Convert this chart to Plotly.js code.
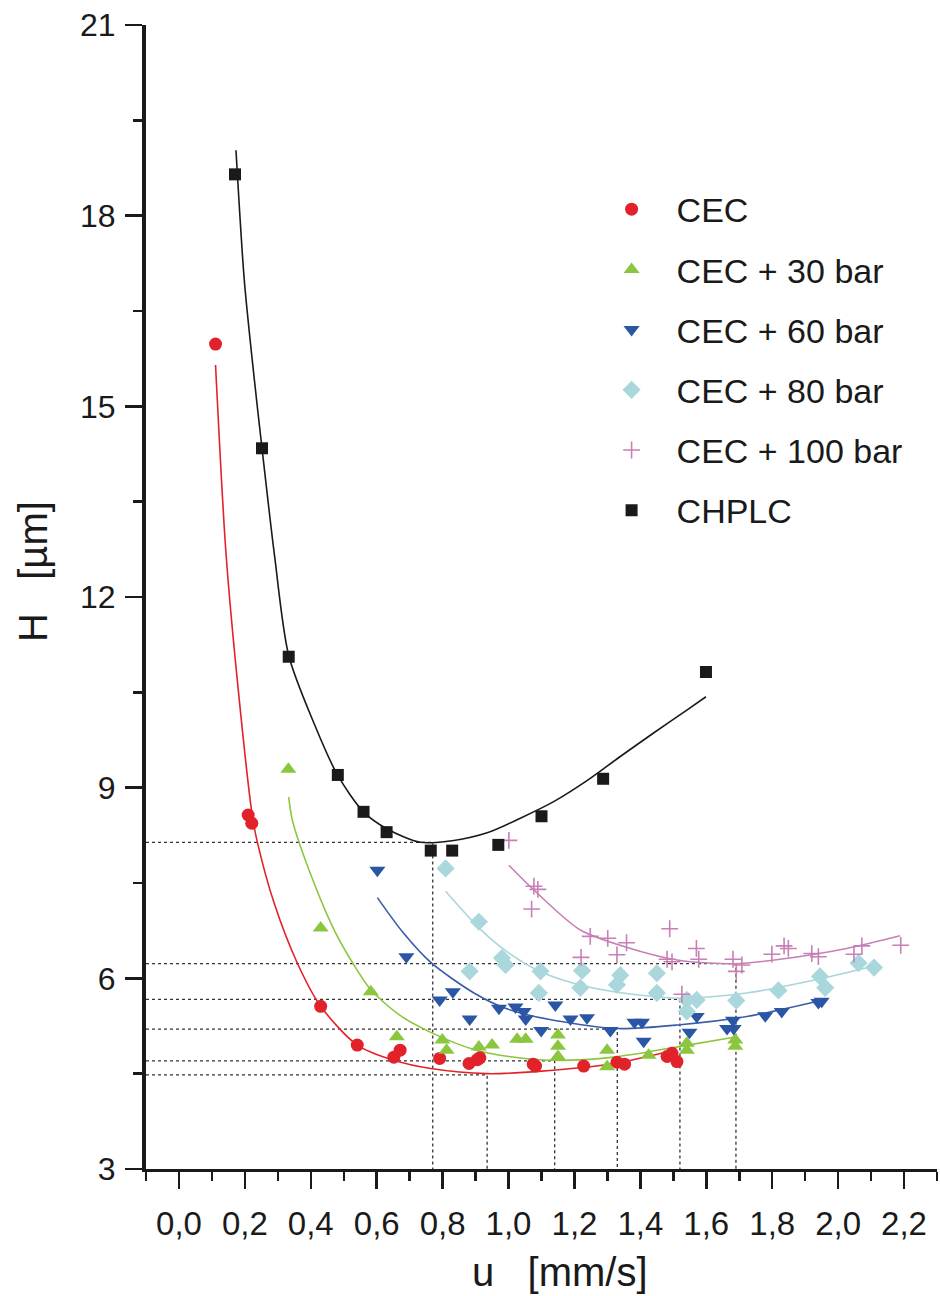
<!DOCTYPE html>
<html>
<head>
<meta charset="utf-8">
<script src="https://cdn.plot.ly/plotly-3.0.1.min.js"></script>
<style>
  html, body { margin: 0; padding: 0; background: #fff; }
  #chart { width: 940px; height: 1296px; }
</style>
</head>
<body>
<div id="chart"></div>
<script>
// Plate height H (µm) versus linear velocity u (mm/s): measured points and fitted curves

const seriesNames = ['CEC', 'CEC + 30 bar', 'CEC + 60 bar', 'CEC + 80 bar', 'CEC + 100 bar', 'CHPLC'];
const seriesColors = ['#e2222b', '#8cc63e', '#2a56a5', '#a9d7dc', '#c87fb5', '#1a1a1a'];
const lineColors = ['#e2222b', '#8cc63e', '#3a5ca8', '#aad6da', '#c87fb5', '#1a1a1a'];
const seriesSymbols = ['circle', 'triangle-up', 'triangle-down', 'diamond', 'cross-thin-open', 'square'];
const seriesSizes = [13, 14, 14, 14, 12, 12];

// measured points
const cecU = [0.111, 0.210, 0.221, 0.430, 0.541, 0.652, 0.671, 0.791, 0.880, 0.905, 0.913, 1.075, 1.082, 1.228, 1.329, 1.352, 1.481, 1.496, 1.511];
const cecH = [15.98, 8.57, 8.44, 5.56, 4.95, 4.76, 4.87, 4.74, 4.66, 4.72, 4.75, 4.65, 4.62, 4.62, 4.68, 4.65, 4.77, 4.82, 4.69];

const cec30U = [0.332, 0.430, 0.582, 0.661, 0.799, 0.812, 0.910, 0.950, 1.026, 1.052, 1.150, 1.150, 1.150, 1.299, 1.299, 1.425, 1.541, 1.541, 1.688, 1.688];
const cec30H = [9.29, 6.79, 5.79, 5.08, 5.03, 4.87, 4.92, 4.95, 5.04, 5.04, 5.11, 4.93, 4.77, 4.87, 4.61, 4.79, 4.87, 4.98, 5.03, 4.93];

const cec60U = [0.602, 0.690, 0.791, 0.831, 0.882, 0.971, 1.021, 1.046, 1.052, 1.099, 1.142, 1.188, 1.238, 1.309, 1.382, 1.405, 1.410, 1.549, 1.571, 1.663, 1.681, 1.683, 1.779, 1.829, 1.940, 1.950];
const cec60H = [7.70, 6.34, 5.66, 5.79, 5.36, 5.53, 5.55, 5.48, 5.36, 5.18, 5.58, 5.36, 5.38, 5.18, 5.31, 5.31, 5.01, 5.15, 5.40, 5.21, 5.34, 5.21, 5.41, 5.48, 5.62, 5.64];

const cec80U = [0.809, 0.910, 0.882, 0.980, 0.991, 1.092, 1.097, 1.223, 1.218, 1.339, 1.329, 1.450, 1.450, 1.541, 1.541, 1.571, 1.691, 1.819, 1.945, 1.961, 2.062, 2.109];
const cec80H = [7.73, 6.89, 6.11, 6.32, 6.21, 5.77, 6.11, 6.12, 5.85, 6.05, 5.90, 6.08, 5.77, 5.66, 5.48, 5.66, 5.65, 5.81, 6.03, 5.85, 6.24, 6.17];

const cec100U = [1.001, 1.077, 1.089, 1.070, 1.248, 1.301, 1.358, 1.220, 1.329, 1.489, 1.481, 1.496, 1.570, 1.577, 1.681, 1.691, 1.708, 1.526, 1.799, 1.836, 1.849, 1.920, 1.940, 2.048, 2.072, 2.190];
const cec100H = [8.17, 7.45, 7.40, 7.09, 6.66, 6.63, 6.56, 6.33, 6.37, 6.78, 6.30, 6.26, 6.47, 6.30, 6.30, 6.11, 6.21, 5.75, 6.38, 6.51, 6.47, 6.39, 6.34, 6.38, 6.51, 6.52];

const chplcU = [0.170, 0.252, 0.333, 0.482, 0.560, 0.630, 0.764, 0.829, 0.969, 1.100, 1.287, 1.599];
const chplcH = [18.65, 14.34, 11.06, 9.20, 8.62, 8.30, 8.01, 8.01, 8.10, 8.55, 9.14, 10.82];

// fitted curves
const cecFitU = [0.111, 0.142, 0.178, 0.223, 0.238, 0.289, 0.360, 0.430, 0.541, 0.652, 0.764, 0.935, 1.100, 1.320, 1.511];
const cecFitH = [15.65, 12.74, 10.64, 8.54, 8.14, 7.18, 6.23, 5.56, 4.95, 4.71, 4.58, 4.50, 4.54, 4.66, 4.88];

const cec30FitU = [0.333, 0.344, 0.395, 0.471, 0.531, 0.582, 0.670, 0.764, 0.895, 1.000, 1.140, 1.319, 1.521, 1.693];
const cec30FitH = [8.85, 8.49, 7.70, 6.76, 6.21, 5.82, 5.42, 5.15, 4.88, 4.77, 4.71, 4.76, 4.93, 5.08];

const cec60FitU = [0.602, 0.680, 0.764, 0.895, 0.995, 1.117, 1.330, 1.521, 1.723, 1.955];
const cec60FitH = [7.27, 6.72, 6.25, 5.77, 5.52, 5.36, 5.21, 5.27, 5.40, 5.66];

const cec80FitU = [0.809, 0.915, 0.995, 1.100, 1.200, 1.319, 1.521, 1.723, 1.925, 2.107];
const cec80FitH = [7.37, 6.77, 6.42, 6.10, 5.92, 5.79, 5.69, 5.77, 5.97, 6.19];

const cec100FitU = [1.001, 1.077, 1.218, 1.370, 1.521, 1.688, 1.824, 2.026, 2.188];
const cec100FitH = [7.78, 7.39, 6.76, 6.47, 6.28, 6.23, 6.30, 6.47, 6.67];

const chplcFitU = [0.173, 0.198, 0.225, 0.252, 0.290, 0.333, 0.410, 0.481, 0.560, 0.632, 0.733, 0.834, 0.935, 1.036, 1.137, 1.238, 1.339, 1.440, 1.541, 1.599];
const chplcFitH = [19.03, 17.00, 15.60, 14.34, 12.65, 11.08, 10.01, 9.20, 8.62, 8.35, 8.14, 8.17, 8.29, 8.52, 8.78, 9.11, 9.49, 9.86, 10.22, 10.43];

// minima of the fitted curves (u_opt, H_min), marked with dotted guides
const minU = [0.935, 1.140, 1.330, 1.520, 1.690, 0.770];
const minH = [4.48, 4.70, 5.20, 5.67, 6.23, 8.14];

const xTickVals = [0, 0.2, 0.4, 0.6, 0.8, 1.0, 1.2, 1.4, 1.6, 1.8, 2.0, 2.2];
const yTickVals = [3, 6, 9, 12, 15, 18, 21];

const pointsU = [cecU, cec30U, cec60U, cec80U, cec100U, chplcU];
const pointsH = [cecH, cec30H, cec60H, cec80H, cec100H, chplcH];
const fitsU = [cecFitU, cec30FitU, cec60FitU, cec80FitU, cec100FitU, chplcFitU];
const fitsH = [cecFitH, cec30FitH, cec60FitH, cec80FitH, cec100FitH, chplcFitH];

const X_MIN = -0.1, X_MAX = 2.3, Y_MIN = 3, Y_MAX = 21;
const FONT = 'Liberation Sans, Arial, Helvetica, sans-serif';

const traces = [];

// dotted guides: horizontal from the axis to the minimum, then down to the u-axis
minU.forEach((u, i) => {
  traces.push({
    x: [X_MIN, u, u],
    y: [minH[i], minH[i], Y_MIN],
    mode: 'lines',
    line: { color: '#333333', width: 1.3, dash: 'dot' },
    hoverinfo: 'skip',
    showlegend: false
  });
});

// fitted curves
fitsU.forEach((u, i) => {
  traces.push({
    x: u,
    y: fitsH[i],
    mode: 'lines',
    line: { color: lineColors[i], width: 1.6, shape: 'spline', smoothing: 0.8 },
    hoverinfo: 'skip',
    showlegend: false
  });
});

// measured points
pointsU.forEach((u, i) => {
  const isCross = seriesSymbols[i] === 'cross-thin-open';
  traces.push({
    x: u,
    y: pointsH[i],
    name: seriesNames[i],
    legendgroup: 'g' + i,
    mode: 'markers',
    marker: {
      symbol: seriesSymbols[i],
      size: seriesSizes[i],
      color: seriesColors[i],
      line: isCross ? { color: seriesColors[i], width: 1.6 } : { width: 0 }
    }
  });
});

const layout = {
  width: 940,
  height: 1296,
  margin: { l: 146, r: 3, t: 25, b: 127 },
  paper_bgcolor: '#ffffff',
  plot_bgcolor: '#ffffff',
  separators: ',.',
  font: { family: FONT, color: '#1a1a1a' },
  showlegend: true,
  legend: {
    x: 0.557,
    y: 0.864,
    xanchor: 'left',
    yanchor: 'top',
    traceorder: 'grouped',
    tracegroupgap: 13,
    bgcolor: 'rgba(0,0,0,0)',
    font: { family: FONT, size: 34, color: '#1a1a1a' },
    itemwidth: 80
  },
  xaxis: {
    range: [X_MIN, X_MAX],
    tickvals: xTickVals,
    tickformat: '.1f',
    ticks: 'outside',
    ticklen: 17,
    tickwidth: 2.5,
    tickcolor: '#1a1a1a',
    minor: { dtick: 0.1, tick0: 0.1, ticks: 'outside', ticklen: 9, tickwidth: 2.5, tickcolor: '#1a1a1a' },
    ticklabelstandoff: 6,
    tickfont: { family: FONT, size: 33, color: '#1a1a1a' },
    showline: true,
    linewidth: 3,
    linecolor: '#1a1a1a',
    showgrid: false,
    zeroline: false,
    fixedrange: true
  },
  yaxis: {
    range: [Y_MIN, Y_MAX],
    tickvals: yTickVals,
    ticks: 'outside',
    ticklen: 17,
    tickwidth: 2.5,
    tickcolor: '#1a1a1a',
    minor: { dtick: 1.5, tick0: 4.5, ticks: 'outside', ticklen: 9, tickwidth: 2.5, tickcolor: '#1a1a1a' },
    ticklabelstandoff: 3,
    tickfont: { family: FONT, size: 32, color: '#1a1a1a' },
    showline: true,
    linewidth: 4,
    linecolor: '#1a1a1a',
    showgrid: false,
    zeroline: false,
    fixedrange: true
  },
  annotations: [
    {
      text: 'H\u00a0\u00a0\u00a0[µm]',
      xref: 'paper', yref: 'paper',
      x: (33 - 146) / 791, y: (1169 - 572) / 1144,
      xanchor: 'center', yanchor: 'middle',
      textangle: -90,
      showarrow: false,
      font: { family: FONT, size: 40, color: '#1a1a1a' }
    },
    {
      text: 'u\u00a0\u00a0\u00a0[mm/s]',
      xref: 'paper', yref: 'paper',
      x: (560 - 146) / 791, y: (1169 - 1272) / 1144,
      xanchor: 'center', yanchor: 'middle',
      showarrow: false,
      font: { family: FONT, size: 40, color: '#1a1a1a' }
    }
  ]
};

Plotly.newPlot('chart', traces, layout, { staticPlot: true, displayModeBar: false });
</script>
</body>
</html>
